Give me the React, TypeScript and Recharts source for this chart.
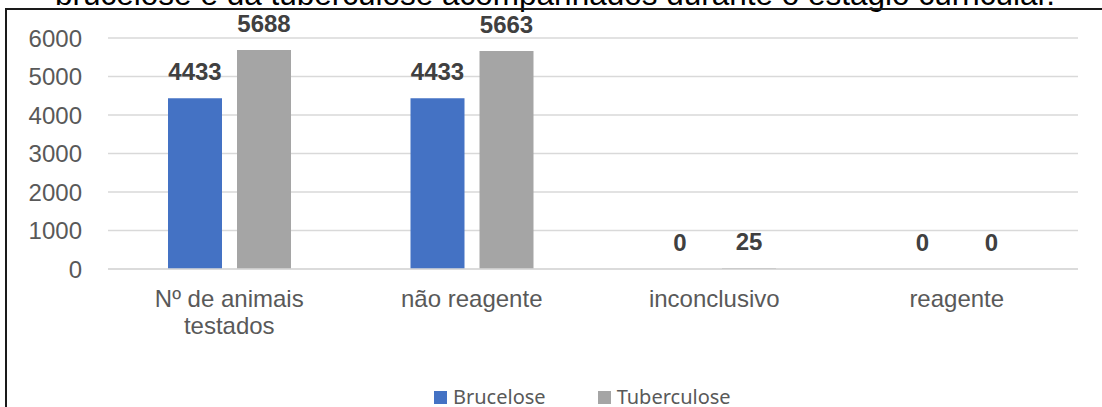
import React from 'react'
import {
  BarChart,
  Bar,
  XAxis,
  YAxis,
  CartesianGrid,
  Legend,
  LabelList,
} from 'recharts'

const categorias = ['Nº de animais\ntestados', 'não reagente', 'inconclusivo', 'reagente']
const brucelose = [4433, 4433, 0, 0]
const tuberculose = [5688, 5663, 25, 0]
const yTicks = [0, 1000, 2000, 3000, 4000, 5000, 6000]

const data = categorias.map((nome, i) => ({
  nome,
  Brucelose: brucelose[i],
  Tuberculose: tuberculose[i],
}))

const FONT = '"Liberation Sans", Arial, sans-serif'

function CategoryTick(props: any) {
  const { x, y, payload } = props
  const linhas = String(payload.value).split('\n')
  return (
    <text x={x} y={y} textAnchor="middle" fontSize={24} fontFamily={FONT} fill="#595959">
      {linhas.map((l, i) => (
        <tspan key={i} x={x} dy={i === 0 ? 17 : 27}>
          {l}
        </tspan>
      ))}
    </text>
  )
}

// draws the value even when the bar has no height
function RotuloValor(props: any) {
  const { x, y, width, value } = props
  const v = Array.isArray(value) ? value[1] : value
  return (
    <text
      x={Number(x) + Number(width) / 2}
      y={Number(y) - 18}
      textAnchor="middle"
      fontSize={24}
      fontWeight="bold"
      fill="#404040"
      fontFamily={FONT}
    >
      {String(v ?? 0)}
    </text>
  )
}

function LegendaCustom(props: any) {
  const items = props.payload || []
  return (
    <div style={{ display: 'flex', alignItems: 'center' }}>
      {items.map((it: any, i: number) => (
        <div
          key={it.value}
          style={{ display: 'flex', alignItems: 'center', marginRight: i === 0 ? 52 : 0 }}
        >
          <span
            style={{ width: 13, height: 13, background: it.color, marginRight: 6, display: 'inline-block' }}
          />
          <span style={{ fontFamily: '"Noto Sans", sans-serif', fontSize: 20, color: '#595959', lineHeight: '20px' }}>
            {it.value}
          </span>
        </div>
      ))}
    </div>
  )
}

export default function App() {
  return (
    <div
      style={{
        position: 'fixed',
        top: 0,
        left: 0,
        width: 1102,
        height: 407,
        overflow: 'hidden',
        background: '#fff',
      }}
    >
      <div
        style={{
          position: 'absolute',
          left: 0,
          width: 1102,
          top: -24,
          textAlign: 'center',
          fontFamily: FONT,
          fontSize: 31.5,
          lineHeight: '36px',
          color: '#000',
          whiteSpace: 'nowrap',
          paddingLeft: 4,
        }}
      >
        brucelose e da tuberculose acompanhados durante o estágio curricular.
      </div>
      <div
        style={{
          position: 'absolute',
          left: 5,
          top: 8,
          width: 1200,
          height: 500,
          border: '2px solid #1a1a1a',
        }}
      />
      <div style={{ position: 'absolute', left: 0, top: 0 }}>
        <BarChart
          width={1102}
          height={407}
          data={data}
          margin={{ top: 38, right: 24, left: 8, bottom: 78 }}
          barSize={54}
          barGap={15}
        >
          <CartesianGrid vertical={false} stroke="#D9D9D9" strokeWidth={1.5} />
          <XAxis
            dataKey="nome"
            interval={0}
            height={60}
            axisLine={{ stroke: '#D9D9D9', strokeWidth: 1.5 }}
            tickLine={false}
            tickSize={6}
            tickMargin={15}
            tick={<CategoryTick />}
          />
          <YAxis
            domain={[0, 6000]}
            ticks={yTicks}
            width={100}
            axisLine={false}
            tickLine={false}
            tickSize={6}
            tickMargin={20}
            tick={{ fontSize: 24, fill: '#595959', fontFamily: FONT }}
          />
          <Legend
            verticalAlign="middle"
            align="center"
            content={<LegendaCustom />}
            wrapperStyle={{ position: 'absolute', top: 387, left: 434, width: 'auto' }}
          />
          <Bar dataKey="Brucelose" fill="#4472C4" minPointSize={0.01} isAnimationActive={false}>
            <LabelList dataKey="Brucelose" content={<RotuloValor />} />
          </Bar>
          <Bar dataKey="Tuberculose" fill="#A5A5A5" minPointSize={0.01} isAnimationActive={false}>
            <LabelList dataKey="Tuberculose" content={<RotuloValor />} />
          </Bar>
        </BarChart>
      </div>
    </div>
  )
}
